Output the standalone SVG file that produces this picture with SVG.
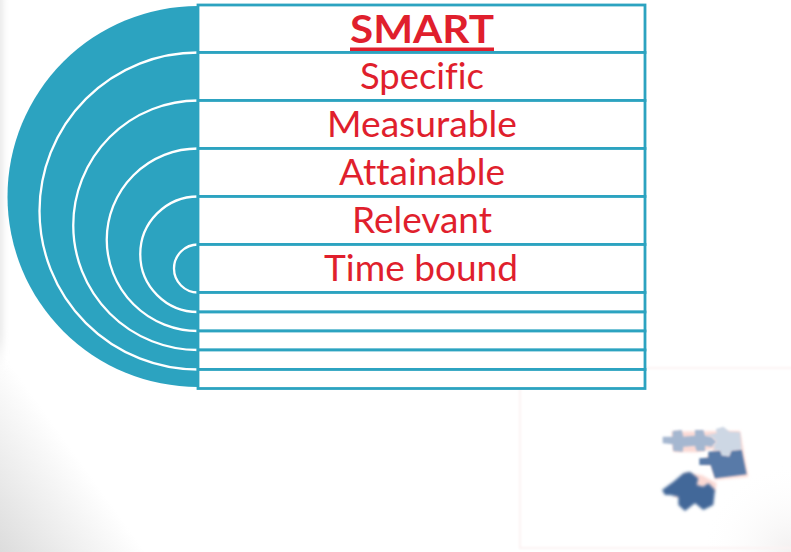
<svg xmlns="http://www.w3.org/2000/svg" width="791" height="552" viewBox="0 0 791 552">
<style>
.lbl{font-family:"Lato","Open Sans","Liberation Sans",sans-serif;font-size:36px;fill:#e01f2d;text-anchor:middle;font-variant-ligatures:none}
.row{fill:#fff;stroke:#2ca3c0;stroke-width:2.8}
.arc{fill:none;stroke:#fff;stroke-width:2.3}
.frame{fill:none;stroke:#fcf3f3;stroke-width:2}
</style>
<defs>
<linearGradient id="corner" gradientUnits="userSpaceOnUse" x1="0" y1="552" x2="96" y2="483">
<stop offset="0" stop-color="#dcdcdc"/><stop offset="0.5" stop-color="#eeeeee"/><stop offset="1" stop-color="#fff"/>
</linearGradient>
<radialGradient id="brCorner" gradientUnits="userSpaceOnUse" cx="791" cy="552" r="90">
<stop offset="0" stop-color="#f2f0f0"/><stop offset="1" stop-color="#fff" stop-opacity="0"/>
</radialGradient>
<filter id="b1" x="-20%" y="-20%" width="140%" height="140%"><feGaussianBlur stdDeviation="3"/></filter>
<filter id="b2" x="-20%" y="-20%" width="140%" height="140%"><feGaussianBlur stdDeviation="4.5"/></filter>
<filter id="b3"><feGaussianBlur stdDeviation="0.8"/></filter>
<filter id="b4" x="-200%" y="-10%" width="500%" height="120%"><feGaussianBlur stdDeviation="3 12"/></filter>
</defs>
<rect width="791" height="552" fill="url(#corner)"/>
<rect x="-6" y="-20" width="9" height="370" fill="#e8e8e8" filter="url(#b4)"/>
<rect x="700" y="462" width="91" height="90" fill="url(#brCorner)"/>
<g id="backdrop">
<rect class="frame" x="520" y="368" width="290" height="180" filter="url(#b3)"/>
</g>
<g id="semicircle">
<path d="M198 6A190.500 190.500 0 0 0 198 387Z" fill="#2ca3c0"/>
<path class="arc" d="M198 52.500A158.500 158.500 0 0 0 198 369.500"/>
<path class="arc" d="M198 100.500A124.750 124.750 0 0 0 198 350"/>
<path class="arc" d="M198 148.500A91.250 91.250 0 0 0 198 331"/>
<path class="arc" d="M198 196.500A57.750 57.750 0 0 0 198 312"/>
<path class="arc" d="M198 244.500A24 24 0 0 0 198 292.500"/>
</g>
<g id="row-smart"><rect class="row" x="198" y="5" width="447" height="47.500"/>
<text class="lbl" x="422" y="43" style="font-weight:700;font-size:39px" textLength="144" lengthAdjust="spacingAndGlyphs">SMART</text>
<rect x="350" y="47.500" width="144" height="3.500" fill="#e01f2d"/></g>
<g id="row-specific"><rect class="row" x="198" y="52.500" width="447" height="48"/>
<text class="lbl" x="422" y="88.500" textLength="124" lengthAdjust="spacingAndGlyphs">Specific</text></g>
<g id="row-measurable"><rect class="row" x="198" y="100.500" width="447" height="48"/>
<text class="lbl" x="422" y="136.500" textLength="190" lengthAdjust="spacingAndGlyphs">Measurable</text></g>
<g id="row-attainable"><rect class="row" x="198" y="148.500" width="447" height="48"/>
<text class="lbl" x="422" y="184.500" textLength="166" lengthAdjust="spacingAndGlyphs">Attainable</text></g>
<g id="row-relevant"><rect class="row" x="198" y="196.500" width="447" height="48"/>
<text class="lbl" x="422" y="232.500" textLength="140" lengthAdjust="spacingAndGlyphs">Relevant</text></g>
<g id="row-time"><rect class="row" x="198" y="244.500" width="447" height="48"/>
<text class="lbl" x="421" y="280.500" textLength="194" lengthAdjust="spacingAndGlyphs">Time bound</text></g>
<g id="row-7"><rect class="row" x="198" y="292.500" width="447" height="19.500"/></g>
<g id="row-8"><rect class="row" x="198" y="312" width="447" height="19"/></g>
<g id="row-9"><rect class="row" x="198" y="331" width="447" height="19"/></g>
<g id="row-10"><rect class="row" x="198" y="350" width="447" height="19.500"/></g>
<g id="row-11"><rect class="row" x="198" y="369.500" width="447" height="19"/></g>
<g id="connectors"></g>
<g id="puzzle" transform="translate(640 415) scale(0.3333)">
<path d="M95 50L300 48L325 185L225 195L215 150L185 145L225 100L170 112L100 110Z" fill="#fbd9d4" filter="url(#b2)"/>
<path d="M100 245L135 175L185 180L230 205L225 230L135 250Z" fill="#fbd9d4" filter="url(#b2)"/>
<path d="M68 65L98 65L98 48L125 45L130 65L165 62L165 45L190 45L195 62L215 65L230 80L215 95L195 92L195 108L170 108L165 92L130 95L128 110L100 108L98 88L68 85Z" fill="#a5b7d0" filter="url(#b1)"/>
<path d="M195 62L230 55L228 42L250 35L268 50L300 52L305 105L275 108L268 125L245 125L240 108L220 105L225 92L215 95L230 80L215 65Z" fill="#cdd7e4" filter="url(#b1)"/>
<path d="M205 110L240 108L245 122L268 125L275 108L305 105L320 178L225 190L212 150L178 150L178 130L205 128Z" fill="#587aa8" filter="url(#b1)"/>
<path d="M66 225L100 200L130 175L150 170L175 190L170 210L190 215L205 205L225 225L220 270L190 285L165 265L135 288L115 270L115 245L90 240L75 240Z" fill="#436899" filter="url(#b2)"/>
</g>
</svg>
